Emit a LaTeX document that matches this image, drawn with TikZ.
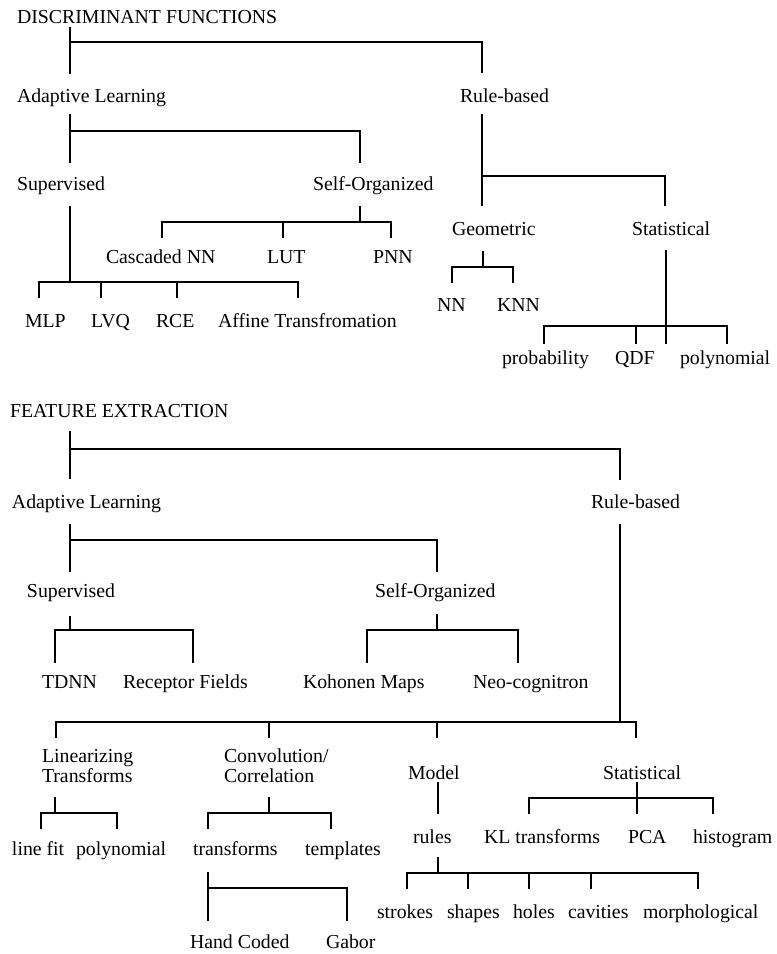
\documentclass[tikz,border=0pt]{standalone}
\usepackage{fontspec}
\setmainfont{Liberation Serif}
\begin{document}
\begin{tikzpicture}[x=1pt,y=-1pt,
  lbl/.style={anchor=base west, inner sep=0pt, outer sep=0pt, font=\fontsize{19.8}{20}\selectfont},
  lbl2/.style={lbl, align=left},
  link/.style={line width=1.2pt, line cap=rect}]
\useasboundingbox[fill=white] (0,0) rectangle (777,954);
% ---------------- DISCRIMINANT FUNCTIONS ----------------
\node[lbl] (df) at (17,23) {DISCRIMINANT FUNCTIONS};
\node[lbl] (al1) at (17,102) {Adaptive Learning};
\node[lbl] (rb1) at (460,102) {Rule-based};
\node[lbl] (sup1) at (17,190) {Supervised};
\node[lbl] (so1) at (313,190) {Self-Organized};
\node[lbl] (cnn) at (106,263) {Cascaded NN};
\node[lbl] (lut) at (267,263) {LUT};
\node[lbl] (pnn) at (373,263) {PNN};
\node[lbl] (geo) at (452,235) {Geometric};
\node[lbl] (stat1) at (632,235) {Statistical};
\node[lbl] (nn) at (437,311) {NN};
\node[lbl] (knn) at (497,311) {KNN};
\node[lbl] (mlp) at (25,327) {MLP};
\node[lbl] (lvq) at (91,327) {LVQ};
\node[lbl] (rce) at (156,327) {RCE};
\node[lbl] (aff) at (218,327) {Affine Transfromation};
\node[lbl] (prob) at (502,364) {probability};
\node[lbl] (qdf) at (615,364) {QDF};
\node[lbl] (poly1) at (680,364) {polynomial};
% connectors
\draw[link] (70,28) -- (70,73);
\draw[link] (70,42) -- (482,42) -- (482,72);
\draw[link] (70,115) -- (70,162);
\draw[link] (70,131) -- (360,131) -- (360,162);
\draw[link] (70,207) -- (70,282);
\draw[link] (39,297) -- (39,282) -- (298,282) -- (298,297);
\draw[link] (101,282) -- (101,297);
\draw[link] (177,282) -- (177,297);
\draw[link] (360,207) -- (360,222);
\draw[link] (162,237) -- (162,222) -- (391,222) -- (391,237);
\draw[link] (283,222) -- (283,237);
\draw[link] (482,115) -- (482,205);
\draw[link] (482,176) -- (665,176) -- (665,205);
\draw[link] (483,252) -- (483,267);
\draw[link] (452,282) -- (452,267) -- (513,267) -- (513,282);
\draw[link] (666,251) -- (666,343);
\draw[link] (544,343) -- (544,326) -- (727,326) -- (727,343);
\draw[link] (636,326) -- (636,343);
% ---------------- FEATURE EXTRACTION ----------------
\node[lbl] (fe) at (10,417) {FEATURE EXTRACTION};
\node[lbl] (al2) at (12,508) {Adaptive Learning};
\node[lbl] (rb2) at (591,508) {Rule-based};
\node[lbl] (sup2) at (27,597) {Supervised};
\node[lbl] (so2) at (375,597) {Self-Organized};
\node[lbl] (tdnn) at (42,688) {TDNN};
\node[lbl] (rf) at (123,688) {Receptor Fields};
\node[lbl] (koh) at (303,688) {Kohonen Maps};
\node[lbl] (neo) at (473,688) {Neo-cognitron};
\node[lbl2] (lin) at (42,782) {Linearizing\\Transforms};
\node[lbl2] (conv) at (224,782) {Convolution/\\Correlation};
\node[lbl] (model) at (408,779) {Model};
\node[lbl] (stat2) at (603,779) {Statistical};
\node[lbl] (linefit) at (12,855) {line fit};
\node[lbl] (poly2) at (76,855) {polynomial};
\node[lbl] (trans) at (193,855) {transforms};
\node[lbl] (templ) at (305,855) {templates};
\node[lbl] (rules) at (413,843) {rules};
\node[lbl] (kl) at (484,843) {KL transforms};
\node[lbl] (pca) at (628,843) {PCA};
\node[lbl] (hist) at (693,843) {histogram};
\node[lbl] (strokes) at (377,918) {strokes};
\node[lbl] (shapes) at (447,918) {shapes};
\node[lbl] (holes) at (513,918) {holes};
\node[lbl] (cav) at (568,918) {cavities};
\node[lbl] (morph) at (643,918) {morphological};
\node[lbl] (hand) at (190,948) {Hand Coded};
\node[lbl] (gabor) at (326,948) {Gabor};
% connectors
\draw[link] (70,432) -- (70,478);
\draw[link] (70,449) -- (620,449) -- (620,479);
\draw[link] (70,525) -- (70,571);
\draw[link] (70,540) -- (437,540) -- (437,571);
\draw[link] (70,617) -- (70,630);
\draw[link] (55,662) -- (55,630) -- (193,630) -- (193,662);
\draw[link] (437,615) -- (437,630);
\draw[link] (367,662) -- (367,630) -- (518,630) -- (518,662);
\draw[link] (620,525) -- (620,722);
\draw[link] (56,737) -- (56,722) -- (636,722) -- (636,737);
\draw[link] (269,722) -- (269,737);
\draw[link] (437,722) -- (437,737);
\draw[link] (55,798) -- (55,813);
\draw[link] (41,828) -- (41,813) -- (117,813) -- (117,828);
\draw[link] (269,798) -- (269,813);
\draw[link] (208,828) -- (208,813) -- (331,813) -- (331,828);
\draw[link] (438,783) -- (438,813);
\draw[link] (637,783) -- (637,813);
\draw[link] (529,813) -- (529,798) -- (713,798) -- (713,813);
\draw[link] (438,858) -- (438,873);
\draw[link] (407,888) -- (407,873) -- (698,873) -- (698,888);
\draw[link] (468,873) -- (468,888);
\draw[link] (529,873) -- (529,888);
\draw[link] (591,873) -- (591,888);
\draw[link] (208,873) -- (208,920);
\draw[link] (208,888) -- (347,888) -- (347,920);
\end{tikzpicture}
\end{document}
